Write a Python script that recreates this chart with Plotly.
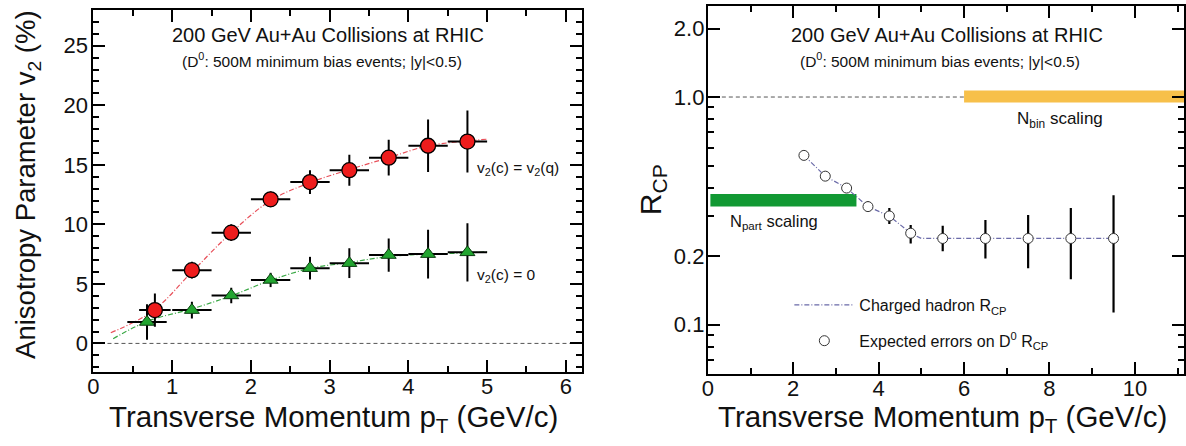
import plotly.graph_objects as go

W, H = 1186, 446

# ---------------- Left panel data: v2 vs pT ----------------
red_x = [0.78, 1.25, 1.75, 2.25, 2.75, 3.25, 3.75, 4.25, 4.75]
red_y = [2.8, 6.15, 9.3, 12.1, 13.55, 14.55, 15.6, 16.6, 16.95]
red_xerr = [0.2, 0.25, 0.25, 0.25, 0.25, 0.25, 0.25, 0.25, 0.25]
red_yerr = [1.4, 0.7, 0.7, 0.65, 1.0, 1.3, 1.5, 2.2, 2.6]

green_x = [0.68, 1.25, 1.75, 2.25, 2.75, 3.25, 3.75, 4.25, 4.75]
green_y = [1.8, 2.8, 4.03, 5.33, 6.32, 6.74, 7.42, 7.5, 7.65]
green_xerr = [0.25, 0.25, 0.25, 0.25, 0.25, 0.25, 0.25, 0.25, 0.25]
green_yerr = [1.5, 0.7, 0.65, 0.6, 0.95, 1.25, 1.4, 2.05, 2.45]

red_curve_x = [0.22, 0.75, 1.25, 1.75, 2.25, 2.75, 3.25, 3.75, 4.25, 4.75, 5.0]
red_curve_y = [0.9, 2.7, 6.0, 9.3, 12.0, 13.5, 14.6, 15.6, 16.6, 17.0, 17.15]
green_curve_x = [0.25, 0.7, 1.25, 1.75, 2.25, 2.75, 3.25, 3.75, 4.25, 4.75, 5.0]
green_curve_y = [0.4, 1.9, 2.9, 4.0, 5.3, 6.3, 6.8, 7.3, 7.5, 7.6, 7.7]

# ---------------- Right panel data: R_CP vs pT ----------------
d0_x = [2.25, 2.75, 3.25, 3.75, 4.25, 4.75, 5.5, 6.5, 7.5, 8.5, 9.5]
d0_y = [0.554, 0.449, 0.398, 0.330, 0.300, 0.252, 0.239, 0.239, 0.239, 0.239, 0.239]
d0_err_plus = [0.0, 0.0, 0.017, 0.018, 0.025, 0.022, 0.033, 0.049, 0.064, 0.086, 0.131]
d0_err_minus = [0.0, 0.0, 0.017, 0.016, 0.023, 0.025, 0.029, 0.044, 0.062, 0.081, 0.126]

hadron_x = [2.25, 2.75, 3.25, 3.75, 4.25, 4.75, 5.0, 9.5]
hadron_y = [0.554, 0.449, 0.398, 0.330, 0.300, 0.252, 0.239, 0.239]

npart_band_x = [0.06, 3.48]
npart_band_y = [0.330, 0.375]
nbin_band_x = [6.0, 11.15]
nbin_band_y = [0.947, 1.067]

FONT = "Liberation Sans, Arial, Helvetica, sans-serif"


def px(x):
    return x / W


def py(y):
    return 1 - y / H


fig = go.Figure()

# left curves
fig.add_trace(go.Scatter(x=red_curve_x, y=red_curve_y, mode="lines",
                         line=dict(color="#e8505a", width=1.2, dash="5px,2px,1px,2px", shape="spline"),
                         showlegend=False, xaxis="x", yaxis="y"))
fig.add_trace(go.Scatter(x=green_curve_x, y=green_curve_y, mode="lines",
                         line=dict(color="#3aa845", width=1.2, dash="5px,2px,1px,2px", shape="spline"),
                         showlegend=False, xaxis="x", yaxis="y"))
# left points
fig.add_trace(go.Scatter(x=green_x, y=green_y, mode="markers",
                         marker=dict(symbol="triangle-up", size=13, color="#22a530",
                                     line=dict(color="#0b3d10", width=1)),
                         error_x=dict(type="data", array=green_xerr, color="black", thickness=2, width=0),
                         error_y=dict(type="data", array=green_yerr, color="black", thickness=2, width=0),
                         showlegend=False, xaxis="x", yaxis="y"))
fig.add_trace(go.Scatter(x=red_x, y=red_y, mode="markers",
                         marker=dict(symbol="circle", size=15, color="#ee1c1c",
                                     line=dict(color="black", width=1.3)),
                         error_x=dict(type="data", array=red_xerr, color="black", thickness=2, width=0),
                         error_y=dict(type="data", array=red_yerr, color="black", thickness=2, width=0),
                         showlegend=False, xaxis="x", yaxis="y"))

# right panel
fig.add_trace(go.Scatter(x=hadron_x, y=hadron_y, mode="lines",
                         line=dict(color="#6a6aa8", width=1.2, dash="5px,2px,1px,2px"),
                         name="Charged hadron R<sub>CP</sub>", legendgroup="a",
                         xaxis="x2", yaxis="y2"))
fig.add_trace(go.Scatter(x=d0_x, y=d0_y, mode="markers",
                         marker=dict(symbol="circle", size=10, color="white",
                                     line=dict(color="#333333", width=1)),
                         error_y=dict(type="data", symmetric=False, array=d0_err_plus,
                                      arrayminus=d0_err_minus, color="black", thickness=2.2, width=0),
                         name="Expected errors on D<sup>0</sup> R<sub>CP</sub>", legendgroup="b",
                         xaxis="x2", yaxis="y2"))

shapes = [
    dict(type="line", xref="x", yref="y", x0=0, x1=6.2, y0=0, y1=0,
         line=dict(color="#555555", width=1, dash="4px,3px"), layer="below"),
    dict(type="line", xref="x2", yref="y2", x0=0, x1=6.0, y0=1.0, y1=1.0,
         line=dict(color="#555555", width=1, dash="4px,3px"), layer="below"),
    dict(type="rect", xref="x2", yref="y2", x0=npart_band_x[0], x1=npart_band_x[1],
         y0=npart_band_y[0], y1=npart_band_y[1], fillcolor="#119933", line=dict(width=0), layer="below"),
    dict(type="rect", xref="x2", yref="y2", x0=nbin_band_x[0], x1=nbin_band_x[1],
         y0=nbin_band_y[0], y1=nbin_band_y[1], fillcolor="#f7c04a", line=dict(width=0), layer="below"),
]


def ann(text, x, y, size, xanchor="center", yanchor="middle", angle=0):
    return dict(text=text, x=px(x), y=py(y), xref="paper", yref="paper", showarrow=False,
                xanchor=xanchor, yanchor=yanchor, textangle=angle,
                font=dict(family=FONT, size=size, color="#111111"))


annotations = [
    ann("200 GeV Au+Au Collisions at RHIC", 324, 35, 20),
    ann("(D<sup>0</sup>: 500M minimum bias events; |y|&lt;0.5)", 318, 60, 15.5),
    ann("v<sub>2</sub>(c) = v<sub>2</sub>(q)", 472, 168, 15.5, xanchor="left"),
    ann("v<sub>2</sub>(c) = 0", 472, 275, 15.5, xanchor="left"),
    ann("Anisotropy Parameter v<sub>2</sub> (%)", 21, 185, 27.5, angle=-90),
    ann("Transverse Momentum p<sub>T</sub> (GeV/c)", 557, 418, 29.5, xanchor="right"),
    ann("200 GeV Au+Au Collisions at RHIC", 947, 35, 20),
    ann("(D<sup>0</sup>: 500M minimum bias events; |y|&lt;0.5)", 940, 60, 15.5),
    ann("N<sub>bin</sub> scaling", 1060, 120, 17),
    ann("N<sub>part</sub> scaling", 773, 222, 16.5),
    ann("R<sub>CP</sub>", 650, 190, 30, angle=-90),
    ann("Transverse Momentum p<sub>T</sub> (GeV/c)", 1170, 418, 29.5, xanchor="right"),
]

axis_common = dict(showline=True, linecolor="black", linewidth=2, mirror="allticks",
                   ticks="inside", ticklen=12, tickwidth=1.5, tickcolor="black",
                   showgrid=False, zeroline=False,
                   tickfont=dict(family=FONT, size=22, color="#111111"))

fig.update_layout(
    width=W, height=H, margin=dict(l=0, r=0, t=0, b=0),
    paper_bgcolor="white", plot_bgcolor="white",
    font=dict(family=FONT),
    shapes=shapes, annotations=annotations,
    xaxis=dict(domain=[px(88), px(579)], range=[0, 6.2], dtick=1, anchor="y",
               minor=dict(dtick=0.5, ticks="inside", ticklen=6, tickwidth=1.5, tickcolor="black"),
               ticklabelstandoff=-6, **axis_common),
    yaxis=dict(domain=[py(372), py(10)], range=[-2.4, 28], dtick=5, anchor="x",
               minor=dict(dtick=1, ticks="inside", ticklen=6, tickwidth=1.5, tickcolor="black"),
               ticklabelstandoff=-1, **axis_common),
    xaxis2=dict(domain=[px(706), px(1185)], range=[0, 11.15], dtick=2, anchor="y2",
                minor=dict(dtick=1, ticks="inside", ticklen=6, tickwidth=1.5, tickcolor="black"),
                ticklabelstandoff=-6, **axis_common),
    yaxis2=dict(domain=[py(373.5), py(6)], type="log", range=[-1.215, 0.40], anchor="x2",
                tickmode="array", tickvals=[0.1, 0.2, 1.0, 2.0], ticktext=["0.1", "0.2", "1.0", "2.0"],
                minor=dict(tickmode="array", tickvals=[0.07, 0.08, 0.09, 0.3, 0.4, 0.5, 0.6, 0.7, 0.8, 0.9],
                           ticks="inside", ticklen=6, tickwidth=1.5, tickcolor="black"),
                ticklabelstandoff=-3, **axis_common),
    legend=dict(x=px(788), y=py(288), xanchor="left", yanchor="top", bgcolor="rgba(0,0,0,0)",
                font=dict(family=FONT, size=16, color="#111111"), itemwidth=60,
                tracegroupgap=12, traceorder="grouped"),
)

fig.write_html("out.html", config={"displayModeBar": False},
               post_script="document.body.style.margin='0px';document.body.style.overflow='hidden';")
